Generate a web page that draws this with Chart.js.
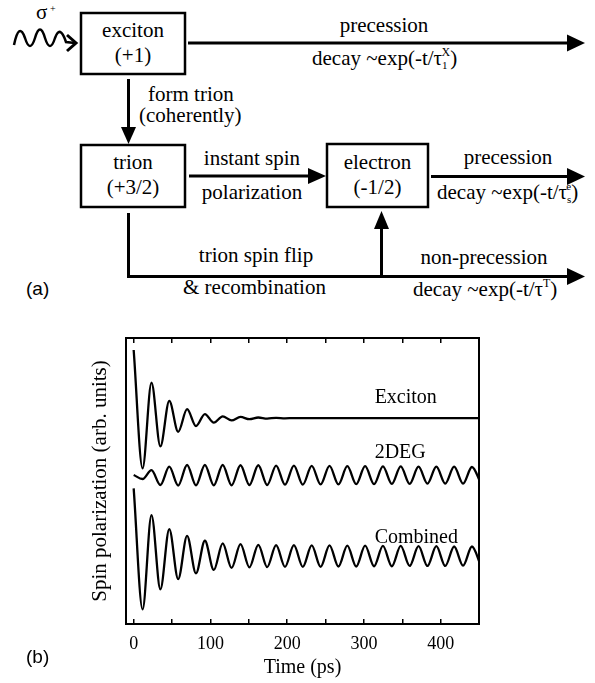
<!DOCTYPE html>
<html lang="en">
<head>
  <meta charset="UTF-8" />
  <title>Spin polarization</title>
  <script src="https://cdn.jsdelivr.net/npm/chart.js"></script>
  <style>
    body { margin: 0; background: #fff; }
    #page { position: relative; width: 595px; height: 683px; overflow: hidden; }
    #diagram { position: absolute; left: 0; top: 0; }
    #plot { position: absolute; left: 0; top: 320px; width: 595px; height: 363px; }
    /* top of a .t label = baseline - 18 */
    .t { position: absolute; white-space: nowrap; color: #000;
         font-family: "Liberation Serif", "Times New Roman", serif; font-size: 21px; line-height: 21px; }
    .c { transform: translateX(-50%); }
    .sb { position: relative; top: 4px; font-size: 11px; }
    .sp { position: relative; top: -9px; font-size: 12px; }
    .tag { position: absolute; font-family: "Liberation Sans", Arial, sans-serif; font-size: 19px; line-height: 19px; }
  </style>
</head>
<body>
<div id="page">

  <!-- (a) level scheme -->
  <svg id="diagram" width="595" height="310">
    <g stroke="#000" fill="none">
      <path d="M14,45 Q19,21 25,38 Q30,54 35,38 Q40,21 45,38 Q50,54 55,38 Q60,24 66,42 L75,43" stroke-width="2.5"/>
      <polyline points="67,35 76,43 67,51" stroke-width="3"/>
      <rect x="81" y="13" width="104" height="61" stroke-width="2.5" fill="#fff"/>
      <rect x="81" y="145" width="104" height="62" stroke-width="2.5" fill="#fff"/>
      <rect x="327" y="144" width="101" height="63" stroke-width="2.5" fill="#fff"/>
      <g stroke-width="3">
        <line x1="188" y1="43" x2="570" y2="43"/>
        <line x1="128.5" y1="79" x2="128.5" y2="130"/>
        <line x1="189" y1="176" x2="312" y2="176"/>
        <line x1="431" y1="176.5" x2="570" y2="176.5"/>
        <polyline points="128.5,213 128.5,276.5 570,276.5"/>
        <line x1="381.5" y1="276.5" x2="381.5" y2="226"/>
      </g>
    </g>
    <g fill="#000">
      <polygon points="567,34.5 585,43 567,51.5"/>
      <polygon points="121,127 136,127 128.5,144"/>
      <polygon points="308,168 326,176 308,184"/>
      <polygon points="567,168 585,176.5 567,185"/>
      <polygon points="567,268 585,276.5 567,285"/>
      <polygon points="374,229 389,229 381.5,211"/>
    </g>
  </svg>

  <div class="t" style="left:36px; top:2px;">σ</div>
  <div class="t" style="left:50px; top:-2px; font-size:10px;">+</div>

  <div class="t c" style="left:133px; top:20px;">exciton</div>
  <div class="t c" style="left:133px; top:45px;">(+1)</div>
  <div class="t c" style="left:384px; top:15px;">precession</div>
  <div class="t" style="left:312px; top:48px;">decay ~exp(-t/τ<span class="sb">1</span><span class="sp" style="margin-left:-6px">X</span>)</div>

  <div class="t" style="left:148px; top:84px;">form trion</div>
  <div class="t" style="left:139px; top:105px;">(coherently)</div>

  <div class="t c" style="left:133px; top:152px;">trion</div>
  <div class="t c" style="left:133px; top:177px;">(+3/2)</div>
  <div class="t c" style="left:252px; top:148px;">instant spin</div>
  <div class="t c" style="left:252px; top:182px;">polarization</div>

  <div class="t c" style="left:377.5px; top:152px;">electron</div>
  <div class="t c" style="left:377.5px; top:177px;">(-1/2)</div>
  <div class="t c" style="left:508px; top:147px;">precession</div>
  <div class="t" style="left:437px; top:182px;">decay ~exp(-t/τ<span class="sb">s</span><span class="sp" style="margin-left:-5px; font-size:11px">e</span>)</div>

  <div class="t c" style="left:256px; top:245px;">trion spin flip</div>
  <div class="t" style="left:183px; top:277px;">&amp; recombination</div>
  <div class="t c" style="left:484px; top:247px;">non-precession</div>
  <div class="t" style="left:413px; top:279px;">decay ~exp(-t/τ<span class="sp">T</span>)</div>

  <div class="tag" style="left:26px; top:279px;">(a)</div>

  <!-- (b) time traces -->
  <div id="plot"><canvas id="spinChart" width="595" height="363"></canvas></div>
  <div class="tag" style="left:26px; top:647px;">(b)</div>
</div>

<script>
  // time of each turning point of the traces (ps)
  const time = [0, 11.6, 23.2, 34.8, 46.4, 58.0, 69.6, 81.2, 92.8, 104.4,
    116.0, 127.6, 139.2, 150.8, 162.4, 174.0, 185.6, 197.2, 208.8, 220.4,
    232.0, 243.6, 255.2, 266.8, 278.4, 290.0, 301.6, 313.2, 324.8, 336.4,
    348.0, 359.6, 371.2, 382.8, 394.4, 406.0, 417.6, 429.2, 440.8, 452.4];

  const exciton = [95.8, 54.4, 84.4, 62.1, 78.0, 67.2, 75.1, 69.2, 73.4, 70.4,
    72.6, 71.2, 72.4, 71.6, 72.2, 71.8, 72.1, 71.9, 72.0, 72.0,
    72.0, 72.0, 72.0, 72.0, 72.0, 72.0, 72.0, 72.0, 72.0, 72.0,
    72.0, 72.0, 72.0, 72.0, 72.0, 72.0, 72.0, 72.0, 72.0, 72.0];

  const deg2 = [52.1, 50.7, 53.8, 48.6, 55.0, 48.4, 55.6, 48.5, 55.6, 48.5,
    55.6, 48.5, 55.5, 48.6, 55.5, 48.6, 55.4, 48.7, 55.4, 48.7,
    55.3, 48.8, 55.3, 48.8, 55.2, 48.9, 55.2, 48.9, 55.1, 49.0,
    55.1, 49.0, 55.0, 49.1, 55.0, 49.1, 55.0, 49.1, 54.9, 49.2];

  const combined = [47.4, 5.1, 38.1, 12.1, 33.2, 15.7, 30.8, 17.7, 29.1, 18.9,
    28.2, 19.6, 27.9, 19.8, 27.7, 19.9, 27.6, 20.0, 27.6, 20.0,
    27.5, 20.0, 27.5, 20.1, 27.4, 20.1, 27.4, 20.2, 27.3, 20.2,
    27.3, 20.3, 27.2, 20.3, 27.2, 20.3, 27.1, 20.4, 27.1, 20.4];

  const xTicks = [0, 50, 100, 150, 200, 250, 300, 350, 400];
  const xTickLabels = ['0', '100', '200', '300', '400'];

  const curveNames = ['Exciton', '2DEG', 'Combined'];
  const curveLabelAt = [[314, 77.2], [314, 57.9], [314, 28.4]];

  const serif = '"Liberation Serif", "Times New Roman", serif';

  function series(values) {
    return values.map((v, i) => ({ x: time[i], y: v }));
  }

  function lineSet(values) {
    return {
      data: series(values),
      borderColor: '#000',
      borderWidth: 2.3,
      pointRadius: 0,
      cubicInterpolationMode: 'monotone',
      fill: false
    };
  }

  const setTicks = s => { s.ticks = xTicks.map(v => ({ value: v })); };

  // curve names written inside the frame
  const curveLabels = {
    id: 'curveLabels',
    afterDatasetsDraw(chart) {
      const { ctx, scales: { x, y } } = chart;
      ctx.save();
      ctx.font = '20px ' + serif;
      ctx.fillStyle = '#000';
      ctx.textBaseline = 'alphabetic';
      curveNames.forEach((name, i) => {
        ctx.fillText(name, x.getPixelForValue(curveLabelAt[i][0]), y.getPixelForValue(curveLabelAt[i][1]));
      });
      ctx.restore();
    }
  };

  new Chart(document.getElementById('spinChart'), {
    type: 'line',
    data: { datasets: [lineSet(exciton), lineSet(deg2), lineSet(combined)] },
    options: {
      responsive: false,
      animation: false,
      events: [],
      layout: { padding: { left: 0, right: 116, top: 18, bottom: 0 } },
      plugins: { legend: { display: false }, tooltip: { enabled: false } },
      scales: {
        x: {
          type: 'linear', position: 'bottom', min: -10, max: 450,
          afterBuildTicks: setTicks,
          afterFit: s => { s.height = 59; },
          ticks: {
            autoSkip: false, maxRotation: 0, padding: 14, color: '#000',
            font: { family: serif, size: 18 },
            callback: v => (xTickLabels.includes(String(v)) ? String(v) : '')
          },
          grid: { drawOnChartArea: false, tickLength: -5, color: '#000', lineWidth: 1.5 },
          border: { color: '#000', width: 2 },
          title: { display: true, text: 'Time (ps)', color: '#000', font: { family: serif, size: 20 }, padding: { top: 0, bottom: 3 } }
        },
        xTop: {
          type: 'linear', position: 'top', min: -10, max: 450,
          afterBuildTicks: setTicks,
          afterFit: s => { s.height = 0; },
          ticks: { display: false },
          grid: { drawOnChartArea: false, tickLength: -5, color: '#000', lineWidth: 1.5 },
          border: { color: '#000', width: 2 }
        },
        y: {
          type: 'linear', position: 'left', min: 0, max: 100,
          afterFit: s => { s.width = 126; },
          ticks: { display: false },
          grid: { display: false },
          border: { color: '#000', width: 2 },
          title: { display: true, text: 'Spin polarization (arb. units)', color: '#000', font: { family: serif, size: 21 }, padding: { top: 88, bottom: 0 } }
        },
        yRight: {
          type: 'linear', position: 'right', min: 0, max: 100,
          afterFit: s => { s.width = 0; },
          ticks: { display: false },
          grid: { display: false },
          border: { color: '#000', width: 2 }
        }
      }
    },
    plugins: [curveLabels]
  });
</script>
</body>
</html>
